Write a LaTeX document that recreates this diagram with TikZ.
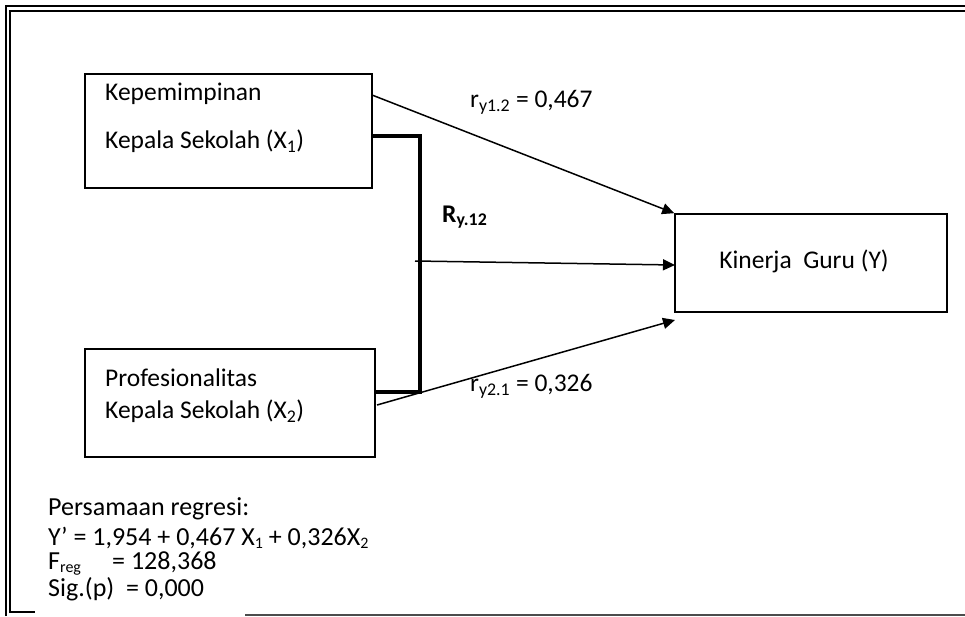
\documentclass[tikz,border=0pt]{standalone}
\usepackage{fontspec}
\setmainfont{Carlito}
\usetikzlibrary{arrows.meta}
\newcommand{\lowsub}[1]{\raisebox{-3pt}{\fontsize{16}{16}\selectfont #1}}
\begin{document}
\begin{tikzpicture}[x=1pt,y=-1pt,
  every node/.style={font=\fontsize{25.5}{30}\selectfont},
  big/.style={font=\fontsize{26}{30}\selectfont,anchor=base west,inner sep=0pt,text height=17pt,text depth=5pt},
  box/.style={draw,line width=1.6pt,inner sep=0pt},
  txt/.style={anchor=west,inner sep=0pt},
  conn/.style={line width=1.5pt,-{Triangle[length=12pt,width=11pt]}},
  brk/.style={line width=3.5pt},
  frameo/.style={line width=2.6pt},
  framei/.style={line width=2pt}]
\useasboundingbox (0,0) rectangle (965,616);
% frame
\draw[frameo] (6,616) -- (6,6) -- (970,6);
\draw[framei] (10,612) -- (10,11) -- (970,11);
\draw[framei] (9,612) -- (35,612);
\draw[line width=1.4pt,black!70] (245,615) -- (970,615);
% boxes
\node[box,minimum width=287pt,minimum height=114pt] (x1) at (228.5,131) {};
\node[box,minimum width=290pt,minimum height=108pt] (x2) at (230,403) {};
\node[box,minimum width=272pt,minimum height=98pt] (y) at (811,263) {};
% box texts
\node[txt] (t1a) at (105,94) {Kepemimpinan};
\node[txt] (t1b) at (105,141) {Kepala Sekolah (X\textsubscript{1})};
\node[txt] (t2a) at (105,378) {Profesionalitas};
\node[txt] (t2b) at (105,411) {Kepala Sekolah (X\textsubscript{2})};
\node[inner sep=0pt] (ty) at (804,261) {Kinerja\ \ Guru (Y)};
% connector points
\coordinate (a1) at (372,95);
\coordinate (b1) at (372,136);
\coordinate (bc) at (420,392);
\coordinate (b2) at (374,392);
\coordinate (m1) at (415,261);
\coordinate (m2) at (675,265);
\coordinate (c1) at (377,405);
\coordinate (c2) at (675,320);
% connectors
\draw[conn] (a1) -- (y.north west);
\draw[conn] (m1) -- (m2);
\draw[conn] (c1) -- (c2);
\draw[brk] (b1) -| (bc) -- (b2);
% labels
\node[txt] (l1) at (470,102) {r\textsubscript{y1.2} = 0,467};
\node[txt] (l2) at (470,386) {r\textsubscript{y2.1} = 0,326};
\node[txt] (l3) at (442,217) {\textbf{R\textsubscript{y.12}}};
% equation block
\node[big] (e1) at (48,515) {Persamaan regresi:};
\node[big] (e2) at (48,545) {Y’ = 1,954 + 0,467 X\lowsub{1} + 0,326X\lowsub{2}};
\node[big] (e3) at (48,569) {F\lowsub{reg}};
\node[big] (e3b) at (112,569) {= 128,368};
\node[big] (e4) at (48,596) {Sig.(p)\ \ = 0,000};
\end{tikzpicture}
\end{document}
